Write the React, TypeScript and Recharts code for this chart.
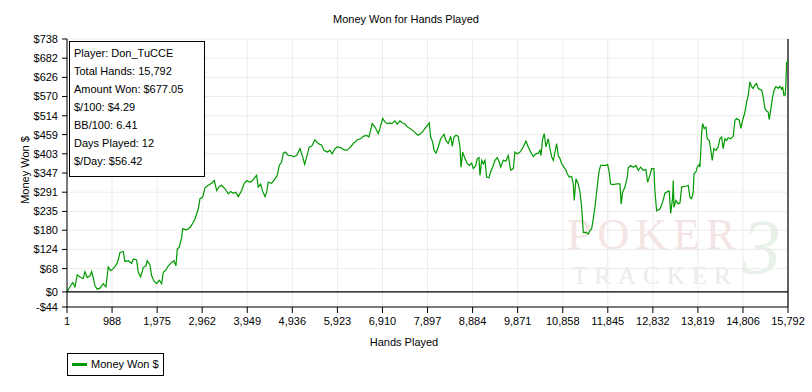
import React from "react";
import {
  LineChart,
  Line,
  XAxis,
  YAxis,
  CartesianGrid,
  ReferenceLine,
} from "recharts";

// [hands, money won $], left to right
const stretchStart: [number, number][] = [
  [1, 0], [66, 15], [125, 27], [175, 15], [226, 50], [300, 42], [357, 39], [394, 59],
  [445, 42], [504, 47], [541, 59], [576, 42], [613, 18], [664, 8], [723, 11], [795, 24],
  [854, 15], [904, 73], [957, 62], [1014, 68], [1088, 81], [1123, 93], [1161, 115],
  [1233, 118], [1270, 89], [1342, 91], [1417, 83], [1452, 96], [1526, 93], [1561, 57],
  [1614, 44], [1671, 71], [1730, 76], [1759, 91], [1818, 79], [1855, 47], [1905, 32],
  [1964, 24], [2021, 34], [2074, 24], [2109, 57], [2168, 64], [2219, 76], [2293, 86],
  [2343, 91], [2387, 76], [2416, 125], [2459, 130], [2512, 159], [2534, 184], [2622, 181],
  [2694, 188],
];

const stretchClimb: [number, number][] = [
  [2753, 200], [2803, 213], [2841, 228], [2876, 242], [2913, 272], [2972, 276], [3022, 304],
  [3094, 311], [3169, 317], [3226, 325], [3279, 296], [3336, 308], [3388, 311], [3461, 301],
  [3533, 286], [3585, 293], [3642, 288], [3701, 291], [3752, 278], [3826, 296], [3876, 315],
  [3935, 325], [4008, 320], [4067, 325], [4117, 335], [4154, 340], [4190, 306], [4242, 315],
  [4286, 294], [4337, 278], [4374, 291], [4409, 320], [4483, 317], [4556, 330], [4606, 340],
  [4650, 369], [4702, 379], [4739, 405], [4776, 408], [4848, 398], [4922, 398], [4957, 394],
  [5031, 398],
];

const stretchPeak: [number, number][] = [
  [5103, 418], [5162, 394], [5206, 372], [5250, 394], [5307, 423], [5359, 425], [5431, 444],
  [5504, 433], [5578, 428], [5628, 413], [5701, 408], [5760, 413], [5810, 403], [5869, 418],
  [5920, 423], [5994, 421], [6066, 415], [6125, 413], [6198, 421], [6270, 433], [6308, 437],
  [6358, 444], [6432, 447], [6489, 454], [6563, 457], [6614, 452], [6651, 472], [6686, 491],
  [6746, 481], [6783, 472], [6818, 462], [6855, 477], [6914, 506], [6964, 496], [7015, 491],
  [7059, 493], [7112, 491], [7184, 499], [7234, 489], [7293, 499], [7352, 493], [7402, 491],
  [7439, 483], [7512, 477], [7584, 470], [7643, 462], [7694, 457], [7746, 462], [7790, 467],
  [7841, 477],
];

const stretchMiddle: [number, number][] = [
  [7913, 489], [7935, 493], [7966, 452], [8010, 437], [8038, 413], [8082, 405], [8132, 423],
  [8185, 447], [8257, 460], [8301, 442], [8351, 433], [8404, 454], [8439, 425], [8476, 452],
  [8520, 457], [8570, 454], [8608, 423], [8630, 364], [8667, 408], [8717, 389], [8768, 374],
  [8812, 369], [8864, 376], [8899, 360], [8952, 369], [8987, 389], [9024, 392], [9046, 340],
  [9083, 384], [9118, 374], [9155, 384], [9192, 335], [9242, 333], [9279, 350], [9323, 364],
  [9374, 384], [9424, 392], [9468, 379], [9499, 364], [9556, 384], [9615, 382], [9665, 398],
  [9718, 355], [9775, 360], [9812, 408], [9862, 403], [9921, 408], [9994, 423], [10053, 440],
  [10103, 423], [10156, 408], [10213, 395], [10272, 403], [10323, 405], [10360, 413],
  [10382, 398], [10419, 447], [10454, 462], [10491, 423], [10541, 447], [10579, 418],
];

const stretchDip: [number, number][] = [
  [10616, 394], [10651, 384], [10688, 408], [10725, 433], [10760, 398], [10798, 389],
  [10835, 374], [10885, 364], [10929, 355], [10957, 345], [11001, 335], [11054, 337],
  [11089, 315], [11111, 267], [11148, 330], [11199, 315], [11236, 291], [11273, 247],
  [11308, 174], [11367, 174], [11417, 169], [11454, 179], [11491, 184], [11527, 213],
  [11564, 247], [11614, 306], [11651, 350], [11688, 369], [11745, 369], [11804, 369],
  [11841, 372], [11876, 350], [11907, 315], [11964, 313], [12038, 315], [12111, 315],
  [12139, 257], [12170, 291], [12221, 306], [12271, 335], [12293, 362], [12346, 369],
  [12403, 364], [12462, 369], [12513, 355], [12564, 364], [12621, 355], [12680, 357],
  [12717, 320], [12768, 340], [12805, 360], [12855, 360], [12877, 296], [12914, 237],
  [12987, 242],
];

const stretchEnd: [number, number][] = [
  [13046, 262], [13097, 288], [13170, 294], [13192, 294], [13222, 229], [13266, 276],
  [13279, 325], [13294, 247], [13338, 267], [13389, 257], [13426, 260], [13463, 306],
  [13513, 308], [13572, 309], [13608, 311], [13644, 276], [13682, 272], [13716, 291],
  [13732, 345], [13775, 350], [13804, 364], [13848, 372], [13863, 364], [13878, 398],
  [13900, 462], [13922, 491], [13957, 477], [13994, 481], [14023, 447], [14067, 442],
  [14097, 418], [14132, 384], [14169, 418], [14213, 413], [14263, 423], [14300, 447],
  [14338, 452], [14373, 418], [14410, 447], [14447, 442], [14482, 450], [14535, 447],
  [14592, 454], [14630, 501], [14667, 506], [14724, 501], [14761, 477], [14798, 501],
  [14849, 525], [14886, 554], [14921, 574], [14958, 613], [14995, 599], [15030, 594],
  [15067, 604], [15104, 608], [15139, 594], [15176, 591], [15214, 589], [15249, 569],
  [15286, 535], [15323, 528], [15358, 525], [15380, 503], [15418, 535], [15455, 569],
  [15490, 589], [15527, 599], [15578, 594], [15615, 600], [15652, 591], [15674, 599],
  [15702, 574], [15730, 574], [15746, 608], [15761, 667], [15792, 677],
];

const handTicks = [
  1, 988, 1975, 2962, 3949, 4936, 5923, 6910, 7897, 8884, 9871, 10858, 11845, 12832,
  13819, 14806, 15792,
];
const moneyTicks = [-44, 0, 68, 124, 180, 235, 291, 347, 403, 459, 514, 570, 626, 682, 738];

const statLines = [
  "Player: Don_TuCCE",
  "Total Hands: 15,792",
  "Amount Won: $677.05",
  "$/100: $4.29",
  "BB/100: 6.41",
  "Days Played: 12",
  "$/Day: $56.42",
];

const data = [
  ...stretchStart,
  ...stretchClimb,
  ...stretchPeak,
  ...stretchMiddle,
  ...stretchDip,
  ...stretchEnd,
].map(([hands, money]) => ({ hands, money }));

const FONT = "'Liberation Sans', Arial, sans-serif";
const GREEN = "#009a00";

const fmtMoney = (v: number) => (v < 0 ? `-$${-v}` : `$${v}`);
const fmtHands = (v: number) => v.toLocaleString("en-US");

export default function App() {
  return (
    <div
      style={{
        position: "absolute",
        left: 0,
        top: 0,
        width: 812,
        height: 392,
        background: "#fff",
        fontFamily: FONT,
        fontSize: 11,
        color: "#000",
        overflow: "hidden",
      }}
    >
      {/* faint watermark behind the plot */}
      <div
        style={{
          position: "absolute",
          left: 567,
          top: 213,
          fontFamily: "'Liberation Serif', serif",
          fontSize: 44,
          lineHeight: "44px",
          letterSpacing: 6,
          color: "#f4e4e4",
        }}
      >
        POKER
      </div>
      <div
        style={{
          position: "absolute",
          left: 572,
          top: 263,
          fontFamily: "'Liberation Serif', serif",
          fontSize: 25,
          lineHeight: "25px",
          letterSpacing: 7,
          color: "#e9ece9",
        }}
      >
        TRACKER
      </div>
      <div
        style={{
          position: "absolute",
          left: 742,
          top: 214,
          fontFamily: "'Liberation Serif', serif",
          fontSize: 78,
          lineHeight: "66px",
          fontStyle: "italic",
          color: "#e8f1e8",
        }}
      >
        3
      </div>

      <LineChart
        width={812}
        height={392}
        data={data}
        margin={{ top: 39, right: 24, bottom: 55, left: 0 }}
      >
        <CartesianGrid stroke="#ebebeb" strokeWidth={1} />
        <XAxis
          dataKey="hands"
          type="number"
          domain={[1, 15792]}
          ticks={handTicks}
          interval={0}
          tickFormatter={fmtHands}
          height={30}
          tickSize={6}
          tickMargin={4}
          axisLine={{ stroke: "#000" }}
          tickLine={{ stroke: "#000" }}
          tick={{ fill: "#000", fontSize: 11, fontFamily: FONT }}
        />
        <YAxis
          type="number"
          domain={[-44, 738]}
          ticks={moneyTicks}
          interval={0}
          tickFormatter={fmtMoney}
          width={67}
          tickSize={5}
          tickMargin={4}
          axisLine={{ stroke: "#000" }}
          tickLine={{ stroke: "#000" }}
          tick={{ fill: "#000", fontSize: 11, fontFamily: FONT }}
        />
        <ReferenceLine y={0} stroke="#000" strokeWidth={1.2} />
        <ReferenceLine x={15792} stroke="#000" strokeWidth={1.2} />
        <Line
          type="linear"
          dataKey="money"
          stroke={GREEN}
          strokeWidth={1.2}
          dot={false}
          isAnimationActive={false}
        />
      </LineChart>

      {/* title and axis titles */}
      <div
        style={{
          position: "absolute",
          left: 0,
          top: 12,
          width: 812,
          textAlign: "center",
          lineHeight: "14px",
        }}
      >
        Money Won for Hands Played
      </div>
      <div
        style={{
          position: "absolute",
          left: 304,
          top: 335,
          width: 200,
          textAlign: "center",
          lineHeight: "14px",
        }}
      >
        Hands Played
      </div>
      <div
        style={{
          position: "absolute",
          left: 25 - 50,
          top: 170 - 7,
          width: 100,
          textAlign: "center",
          lineHeight: "14px",
          transform: "rotate(-90deg)",
        }}
      >
        Money Won $
      </div>

      {/* stats box */}
      <div
        style={{
          position: "absolute",
          left: 69,
          top: 41,
          width: 136,
          height: 136,
          boxSizing: "border-box",
          border: "1px solid #000",
          background: "#fff",
          padding: "2px 0 0 4px",
        }}
      >
        {statLines.map((s) => (
          <div key={s} style={{ lineHeight: "18px", whiteSpace: "nowrap" }}>
            {s}
          </div>
        ))}
      </div>

      {/* legend */}
      <div
        style={{
          position: "absolute",
          left: 67,
          top: 353,
          width: 97,
          height: 23,
          boxSizing: "border-box",
          border: "1px solid #000",
          background: "#fff",
        }}
      >
        <div
          style={{
            position: "absolute",
            left: 4,
            top: 9,
            width: 15,
            height: 3,
            background: GREEN,
          }}
        />
        <div
          style={{
            position: "absolute",
            left: 23,
            top: 3,
            lineHeight: "14px",
            whiteSpace: "nowrap",
          }}
        >
          Money Won $
        </div>
      </div>
    </div>
  );
}
